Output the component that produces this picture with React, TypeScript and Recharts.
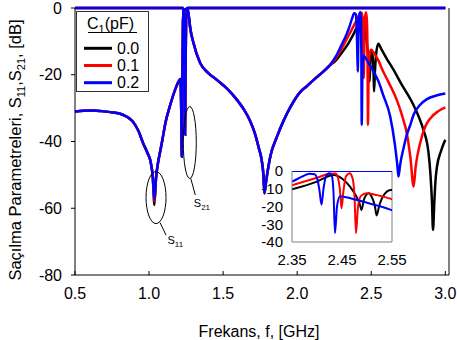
import { LineChart, Line, XAxis, YAxis, ReferenceDot, ReferenceLine } from "recharts";

type Pt = [number, number];

const CAPS = ["0.0", "0.1", "0.2"];
const COLORS = ["#000000", "#ff0000", "#0000ff"];
const X_TICKS = [0.5, 1.0, 1.5, 2.0, 2.5, 3.0];
const Y_TICKS = [-80, -60, -40, -20, 0];
const INSET_X_TICKS = [2.35, 2.45, 2.55];
const INSET_Y_TICKS = [-40, -30, -20, -10, 0];

// S11, same for every C1 below ~2.2 GHz
const S11_SHARED: Pt[] = [
  [0.5, -31.0], [0.56, -30.8], [0.62, -30.7], [0.68, -30.9], [0.74, -31.2], [0.8, -31.6],
  [0.85, -32.6], [0.89, -34.0], [0.93, -37.0], [0.96, -40.5], [0.99, -43.5], [1.01, -46.0],
  [1.025, -50.5], [1.047, -51.0], [1.06, -46.5], [1.075, -43.0], [1.09, -39.5], [1.11, -34.5],
  [1.14, -29.5], [1.175, -24.6], [1.2, -22.0], [1.212, -21.3], [1.217, -30.0], [1.221, -44.6],
  [1.225, -22.0], [1.229, -4.0], [1.235, -0.6], [1.25, -0.3], [1.262, -0.8], [1.27, -3.0],
  [1.277, -5.7], [1.3, -10.5], [1.345, -16.5], [1.4, -19.5], [1.46, -21.6], [1.53, -24.3],
  [1.595, -27.6], [1.64, -30.4], [1.68, -33.6], [1.71, -37.0], [1.74, -41.8], [1.76, -45.5],
  [1.772, -50.0], [1.779, -55.5], [1.79, -52.0], [1.806, -47.5], [1.82, -44.2], [1.863, -38.6],
  [1.91, -33.6], [1.953, -29.8], [2.02, -25.2], [2.066, -23.4], [2.12, -21.2], [2.178, -19.0],
  [2.22, -17.2],
];
// bottom of the first S11 dip, one per C1
const S11_TIP: Pt[] = [[1.036, -59.0], [1.036, -58.0], [1.036, -57.3]];

const S11_HIGH_C0: Pt[] = [
  [2.26, -15.8], [2.3, -13.5], [2.35, -10.3], [2.4, -6.0], [2.433, -2.2], [2.45, -4.2],
  [2.466, -8.8], [2.478, -14.0], [2.485, -18.0], [2.489, -22.0], [2.494, -16.0], [2.503, -12.5],
  [2.511, -15.5], [2.516, -20.0], [2.519, -25.0], [2.525, -19.0], [2.535, -13.0], [2.548, -10.7],
  [2.57, -12.5], [2.606, -15.3], [2.65, -18.5], [2.7, -22.5], [2.78, -28.6], [2.82, -32.5],
  [2.853, -36.6], [2.887, -43.5], [2.9, -50.0], [2.91, -58.0], [2.917, -66.5], [2.926, -58.0],
  [2.935, -51.0], [2.944, -47.5], [2.97, -43.0], [3.0, -39.5],
];
const S11_HIGH_C1: Pt[] = [
  [2.26, -15.2], [2.3, -12.2], [2.35, -8.0], [2.4, -3.8], [2.425, -1.6], [2.437, -1.4],
  [2.442, -4.0], [2.446, -11.0], [2.449, -21.0], [2.453, -11.0], [2.458, -3.0], [2.465, -1.3],
  [2.471, -4.0], [2.475, -14.0], [2.478, -35.0], [2.482, -20.0], [2.488, -14.0], [2.499, -12.5],
  [2.52, -13.6], [2.548, -15.7], [2.575, -18.5], [2.62, -22.5], [2.673, -27.6], [2.71, -32.5],
  [2.74, -37.5], [2.765, -45.0], [2.786, -53.5], [2.8, -47.5], [2.83, -40.5], [2.865, -35.5],
  [2.9, -33.0], [2.95, -31.0], [3.0, -29.8],
];
const S11_HIGH_C2: Pt[] = [
  [2.26, -14.6], [2.3, -11.0], [2.336, -7.6], [2.35, -6.0], [2.37, -3.2], [2.385, -1.6],
  [2.395, -1.8], [2.401, -5.0], [2.405, -11.0], [2.409, -19.0], [2.413, -10.0], [2.418, -3.0],
  [2.425, -1.2], [2.43, -3.0], [2.433, -12.0], [2.436, -35.0], [2.44, -20.0], [2.446, -14.2],
  [2.47, -15.6], [2.5, -17.9], [2.525, -19.8], [2.548, -21.9], [2.58, -26.0], [2.628, -32.5],
  [2.66, -41.0], [2.676, -47.0], [2.684, -50.5], [2.695, -47.0], [2.718, -42.0], [2.74, -38.0],
  [2.764, -35.0], [2.786, -32.0], [2.83, -29.0], [2.876, -27.3], [2.94, -26.2], [3.0, -25.6],
];

// S21, 0 dB outside the first stop band
const S21_SHARED: Pt[] = [
  [0.5, 0], [1.23, 0], [1.236, -4], [1.24, -20], [1.243, -38], [1.246, -20], [1.25, -4],
  [1.256, 0], [2.3, 0], [3.0, 0],
];

function series(...parts: Pt[][]) {
  return parts.flat().slice().sort((a, b) => a[0] - b[0]).map(([f, v]) => ({ f, v }));
}

const S11 = [
  series(S11_SHARED, [S11_TIP[0]], S11_HIGH_C0),
  series(S11_SHARED, [S11_TIP[1]], S11_HIGH_C1),
  series(S11_SHARED, [S11_TIP[2]], S11_HIGH_C2),
];
const S21 = CAPS.map(() => series(S21_SHARED));

const FONT = "'Liberation Sans', Arial, sans-serif";

function MainXTick(props: any) {
  const { x, y, payload } = props;
  return (
    <g>
      <line x1={x} x2={x} y1={y - 13} y2={y - 17} stroke="#000" />
      <text x={x} y={y} dy="0.71em" textAnchor="middle" fontSize={16} fill="#000">
        {Number(payload.value).toFixed(1)}
      </text>
    </g>
  );
}

function lines(width: number) {
  return [0, 1, 2].flatMap((i) => [
    <Line key={`s11-${i}`} data={S11[i]} dataKey="v" type="monotone" stroke={COLORS[i]}
      strokeWidth={width} dot={false} isAnimationActive={false} />,
    <Line key={`s21-${i}`} data={S21[i]} dataKey="v" type="monotone" stroke={COLORS[i]}
      strokeWidth={width} dot={false} isAnimationActive={false} />,
  ]);
}

function S11Mark(p: any) {
  const { cx, cy } = p;
  return (
    <g>
      <ellipse cx={cx} cy={cy} rx={10} ry={26} fill="none" stroke="#000" strokeWidth={1} />
      <line x1={cx + 4} y1={cy + 25} x2={cx + 10} y2={cy + 37.5} stroke="#000" />
      <text x={cx + 11.5} y={cy + 46} fontSize={11} fill="#000">
        S<tspan fontSize={8} dy={3}>11</tspan>
      </text>
    </g>
  );
}

function S21Mark(p: any) {
  const { cx, cy } = p;
  return (
    <g>
      <ellipse cx={cx} cy={cy} rx={6.5} ry={36} fill="none" stroke="#000" strokeWidth={1} />
      <line x1={cx + 1} y1={cy + 36} x2={cx + 5.5} y2={cy + 52.5} stroke="#000" />
      <text x={cx + 4} y={cy + 64} fontSize={11} fill="#000">
        S<tspan fontSize={8} dy={3}>21</tspan>
      </text>
    </g>
  );
}

export default function App() {
  return (
    <div style={{ position: "absolute", left: 0, top: 0, width: 457, height: 340, background: "#fff", fontFamily: FONT }}>
      <LineChart width={457} height={340} margin={{ top: 8, right: 8, bottom: 0, left: 0 }}>
        <XAxis type="number" dataKey="f" domain={[0.5, 3.025]} ticks={X_TICKS} interval={0}
          height={65} axisLine={{ stroke: "#000" }} tickLine={false} tickSize={0} tickMargin={13}
          tick={(p: any) => <MainXTick {...p} />} />
        <YAxis type="number" domain={[-80, 0]} ticks={Y_TICKS} interval={0} width={75}
          tickSize={4} tickMargin={9} axisLine={{ stroke: "#000" }} tickLine={{ stroke: "#000" }}
          tick={{ fill: "#000", fontSize: 16 }} />
        <ReferenceLine x={3.025} stroke="#000" />
        {lines(2.5)}
        <ReferenceDot x={1.047} y={-56.8} r={1} shape={(p: any) => <S11Mark {...p} />} />
        <ReferenceDot x={1.275} y={-40.3} r={1} shape={(p: any) => <S21Mark {...p} />} />
      </LineChart>

      <div style={{ position: "absolute", left: 250, top: 160 }}>
        <LineChart width={162} height={114} margin={{ top: 11, right: 20, bottom: 0, left: 0 }}>
          <XAxis type="number" dataKey="f" domain={[2.35, 2.55]} allowDataOverflow ticks={INSET_X_TICKS}
            interval={0} height={32} axisLine={{ stroke: "#808080" }} tickLine={false} tickSize={0}
            tickMargin={12} tick={{ fill: "#000", fontSize: 15 }} tickFormatter={(v: number) => v.toFixed(2)} />
          <YAxis type="number" domain={[-40, 0]} allowDataOverflow ticks={INSET_Y_TICKS} interval={0}
            width={42} axisLine={{ stroke: "#808080" }} tickLine={false} tickSize={0} tickMargin={9}
            tick={{ fill: "#000", fontSize: 15 }} />
          <ReferenceLine x={2.55} stroke="#808080" />
          {lines(2)}
        </LineChart>
      </div>

      <svg width={457} height={340} style={{ position: "absolute", left: 0, top: 0, pointerEvents: "none" }}>
        <rect x={76.5} y={11.5} width={72} height={80} fill="#fff" stroke="#333" strokeWidth={1} />
        <text x={87} y={28.5} fontSize={16} fill="#000">
          C<tspan fontSize={11} dy={4}>1</tspan><tspan dy={-4}>(pF)</tspan>
        </text>
        <line x1={88} x2={137} y1={32.5} y2={32.5} stroke="#000" />
        {CAPS.map((c, i) => (
          <g key={c}>
            <line x1={84} x2={112} y1={48.3 + i * 17.2} y2={48.3 + i * 17.2} stroke={COLORS[i]} strokeWidth={3} />
            <text x={117} y={48.3 + i * 17.2 + 5.7} fontSize={16} fill="#000">{c}</text>
          </g>
        ))}
        <text transform="translate(21,150) rotate(-90)" textAnchor="middle" fontSize={16.5} fill="#000">
          Saçılma Parametreleri, S<tspan fontSize={11} dy={4}>11</tspan><tspan dy={-4}>,S</tspan>
          <tspan fontSize={11} dy={4}>21</tspan><tspan dy={-4}>, [dB]</tspan>
        </text>
        <text x={259} y={337} textAnchor="middle" fontSize={16} fill="#000">Frekans, f, [GHz]</text>
      </svg>
    </div>
  );
}
